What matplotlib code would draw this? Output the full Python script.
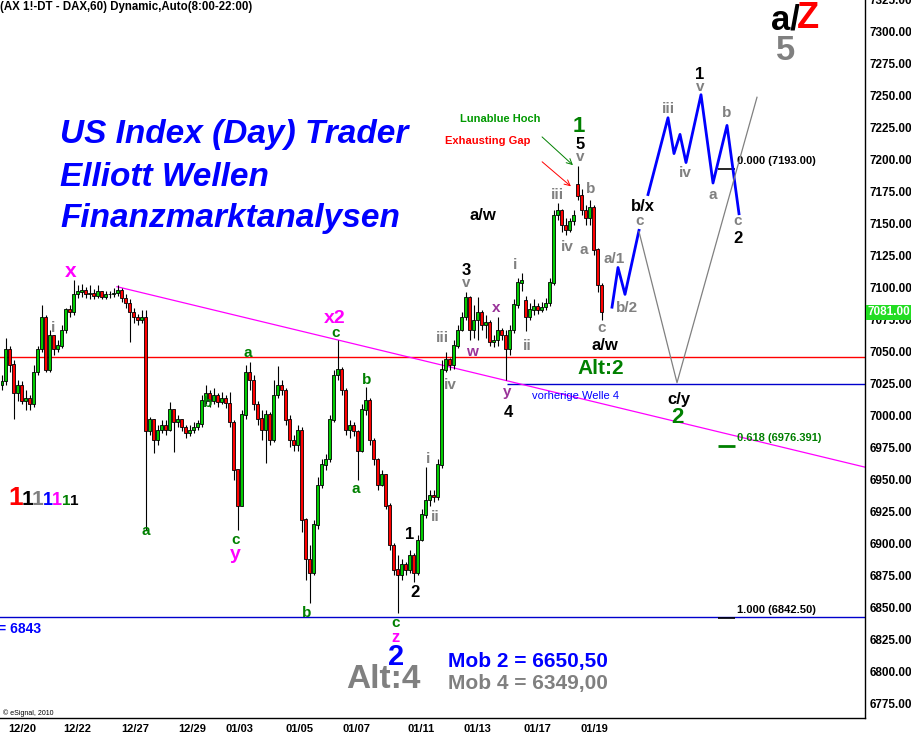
import numpy as np
import matplotlib
matplotlib.use("Agg")
import matplotlib.pyplot as plt
from matplotlib.transforms import blended_transform_factory

plt.rcParams['font.family'] = ['Liberation Sans', 'DejaVu Sans']

# hourly DAX candles (bar index = position), open = previous close unless gapped
closes = [7027, 7052, 7040, 7018, 7024, 7012, 7014, 7009, 7034, 7052,
          7077, 7036, 7063, 7052, 7055, 7067, 7083, 7081, 7095, 7097,
          7098, 7095, 7096, 7094, 7097, 7093, 7095, 7095, 7096, 7098,
          7092, 7088, 7081, 7077, 7075, 7077, 6988, 6997, 6981, 6989,
          6993, 6989, 7005, 6995, 6997, 6991, 6987, 6989, 6991, 6994,
          7012, 7018, 7012, 7016, 7011, 7014, 7010, 6995, 6958, 6930,
          7001, 7034, 7028, 7009, 6998, 6989, 7001, 6981, 7016, 7024,
          7020, 6997, 6981, 6977, 6989, 6919, 6888, 6877, 6915, 6946,
          6962, 6966, 6997, 7032, 7036, 7020, 6989, 6993, 6988, 6973,
          7005, 7012, 6981, 6966, 6946, 6954, 6930, 6899, 6880, 6876,
          6884, 6880, 6891, 6877, 6903, 6923, 6934, 6938, 6937, 6962,
          7036, 7044, 7040, 7055, 7067, 7077, 7093, 7067, 7075, 7081,
          7071, 7073, 7058, 7059, 7067, 7063, 7052, 7067, 7087, 7104,
          7106, 7077, 7083, 7086, 7083, 7085, 7088, 7104, 7157, 7161,
          7149, 7145, 7152, 7157, 7172, 7161, 7155, 7163, 7130, 7102,
          7081]
highs = [7032, 7061, 7055, 7044, 7028, 7027, 7020, 7016, 7040, 7055,
         7087, 7079, 7067, 7063, 7059, 7071, 7084, 7087, 7106, 7102,
         7103, 7101, 7102, 7099, 7102, 7098, 7098, 7098, 7100, 7102,
         7100, 7095, 7091, 7084, 7080, 7083, 7083, 6999, 6998, 6993,
         6997, 6997, 7011, 7005, 7001, 6998, 6993, 6993, 6995, 6997,
         7016, 7024, 7020, 7022, 7018, 7019, 7016, 7019, 6997, 6958,
         7005, 7040, 7042, 7032, 7012, 7005, 7005, 7003, 7028, 7039,
         7028, 7022, 7001, 6985, 6993, 6991, 6920, 6899, 6919, 6952,
         6966, 6970, 7001, 7036, 7059, 7038, 7022, 6997, 6995, 6989,
         7009, 7023, 7014, 6983, 6967, 6958, 6955, 6932, 6901, 6891,
         6888, 6886, 6895, 6893, 6907, 6927, 6960, 6942, 6942, 6966,
         7044, 7050, 7045, 7059, 7071, 7081, 7097, 7094, 7087, 7093,
         7083, 7079, 7075, 7063, 7077, 7069, 7067, 7071, 7091, 7108,
         7112, 7094, 7088, 7091, 7088, 7089, 7092, 7108, 7161, 7166,
         7162, 7155, 7155, 7161, 7195, 7177, 7165, 7169, 7165, 7131,
         7104]
lows = [7020, 7024, 7034, 6998, 7012, 7009, 7005, 7005, 7007, 7032,
        7050, 7034, 7034, 7048, 7050, 7053, 7065, 7077, 7079, 7092,
        7093, 7092, 7091, 7091, 7092, 7091, 7091, 7092, 7093, 7094,
        7089, 7084, 7058, 7073, 7071, 7073, 6911, 6985, 6971, 6977,
        6987, 6985, 6988, 6972, 6991, 6988, 6983, 6984, 6987, 6989,
        6991, 7009, 7007, 7009, 7007, 7009, 7006, 6991, 6950, 6911,
        6930, 6998, 7020, 7005, 6993, 6981, 6963, 6977, 6980, 7014,
        7016, 6993, 6976, 6973, 6973, 6909, 6872, 6854, 6876, 6912,
        6944, 6958, 6964, 6995, 7028, 7016, 6985, 6983, 6984, 6950,
        6972, 7001, 6977, 6962, 6942, 6945, 6927, 6895, 6876, 6846,
        6872, 6876, 6877, 6870, 6876, 6902, 6920, 6930, 6933, 6934,
        6959, 7034, 7036, 7037, 7053, 7066, 7075, 7059, 7061, 7059,
        7067, 7061, 7055, 7054, 7055, 7059, 7028, 7048, 7065, 7084,
        7098, 7066, 7075, 7079, 7080, 7081, 7083, 7086, 7102, 7153,
        7144, 7141, 7144, 7149, 7169, 7157, 7149, 7149, 7126, 7097,
        7075]
first_open = 7024
gap_opens = {131: 7090, 144: 7181}

# x-axis dates (bar positions)
date_pos = [5, 18.75, 33.25, 47.5, 59.25, 74.5, 88.75, 104.75, 118.75, 133.75, 148]
date_labels = ['12/20', '12/22', '12/27', '12/29', '01/03', '01/05', '01/07',
               '01/11', '01/13', '01/17', '01/19']

# projected wave paths
proj1_x = [152.5, 154, 155.75, 159.25]
proj1_y = [7085, 7116, 7095, 7145]
proj2_x = [161.5, 166.5, 168, 169.5, 171, 174.75, 177.75, 181.25, 184.25]
proj2_y = [7173, 7233, 7205, 7220, 7198, 7251, 7182, 7227, 7158]
alt_x = [159.25, 168.75, 188.75]
alt_y = [7144, 7026, 7249]

# levels
red_level = 7046
prev_wave4 = 7025
low_level = 6843
trend_x = [28.75, 215.75]
trend_y = [7101, 6960]
fib_levels = [7193.00, 6976.391, 6842.50]
fib_names = ['0.000', '0.618', '1.000']
fib_colors = ['black', '#008000', 'black']
last_price = 7081.00

closes = np.array(closes, float)
opens = np.r_[first_open, closes[:-1]]
for k, v in gap_opens.items():
    opens[k] = v
highs = np.maximum(np.array(highs, float), np.maximum(opens, closes))
lows = np.minimum(np.array(lows, float), np.minimum(opens, closes))
idx = np.arange(len(closes))

fig = plt.figure(figsize=(9.12, 7.36), dpi=100)
ax = fig.add_axes([0, 18 / 736, 865 / 912, 718 / 736])
ax.set_xlim(-0.5, 215.75)
ax.set_ylim(6764, 7325)

# horizontal and trend lines
ax.axhline(red_level, color='red', lw=1, zorder=1)
ax.hlines(prev_wave4, 126.25, 215.75, color='#0000CC', lw=1, zorder=1)
ax.axhline(low_level, color='#0000CC', lw=1, zorder=1)
ax.plot(trend_x, trend_y, color='#FF00FF', lw=0.9, zorder=1)

# candles
up = closes >= opens
ax.vlines(idx, lows, highs, color='black', lw=0.8, zorder=2)
ax.bar(idx, np.abs(closes - opens) + 0.3, bottom=np.minimum(opens, closes),
       width=0.75, color=np.where(up, '#00CC00', '#FF0000'),
       edgecolor='black', linewidth=0.6, zorder=3)

# projections
ax.plot(proj1_x, proj1_y, color='#0000FF', lw=2, zorder=4)
ax.plot(proj2_x, proj2_y, color='#0000FF', lw=2, zorder=4)
ax.plot(alt_x, alt_y, color='#808080', lw=0.9, zorder=4)

# fibonacci marks
for lvl, nm, c in zip(fib_levels, fib_names, fib_colors):
    ax.hlines(lvl, 179, 183.25, color=c, lw=1.2 if c == 'black' else 2)
    ax.text(183.75, lvl + 6, f'{nm} ({lvl:.{3 if nm == "0.618" else 2}f})',
            color=c, fontsize=8, fontweight='bold', va='center', ha='left')

# axes styling
for s in ['top', 'left']:
    ax.spines[s].set_visible(False)
ax.spines['right'].set_linewidth(1)
ax.spines['bottom'].set_linewidth(1)
ax.yaxis.tick_right()
yt = np.arange(6775, 7326, 25)
ax.set_yticks(yt)
ax.set_yticklabels([f'{v:.2f}' for v in yt], fontsize=8.5, fontweight='bold')
ax.set_xticks(date_pos)
ax.set_xticklabels(date_labels, fontsize=8, fontweight='bold')
ax.tick_params(axis='both', length=0)
ax.tick_params(axis='y', pad=3)
ax.tick_params(axis='x', pad=4)

tr = blended_transform_factory(ax.transAxes, ax.transData)
ax.text(1.003, last_price, f'{last_price:.2f}', transform=tr, color='white',
        fontsize=8.5, fontweight='bold', va='center', ha='left',
        bbox=dict(boxstyle='square,pad=0.12', fc='#22DD22', ec='none'), zorder=6)


def lbl(x, y, s, color='#808080', size=11, weight='bold'):
    ax.text(x, y, s, color=color, fontsize=size, fontweight=weight,
            ha='center', va='center', zorder=5)


GR, GN, MG, PU, BK = '#808080', '#008000', '#FF00FF', '#993399', 'black'
lbl(17.25, 7112.5, 'x', MG, 15)
lbl(12.75, 7069, 'i', GR)
lbl(36, 6910, 'a', GN)
lbl(51.5, 7010, 'b', GN)
lbl(58.5, 6903, 'c', GN)
lbl(58.25, 6892, 'y', MG, 14)
lbl(61.5, 7049, 'a', GN)
lbl(83.25, 7076, 'x2', MG, 14)
lbl(83.5, 7065, 'c', GN)
lbl(91.25, 7028, 'b', GN)
lbl(88.5, 6943, 'a', GN)
lbl(76.25, 6846, 'b', GN)
lbl(98.5, 6838, 'c', GN)
lbl(98.5, 6827, 'z', MG, 12)
lbl(98.5, 6812, '2', '#0000FF', 21)
lbl(102, 6907, '1', BK, 12)
lbl(103.25, 6862, '2', BK, 12)
lbl(106.5, 6966, 'i', GR)
lbl(108.25, 6921, 'ii', GR)
lbl(110, 7061, 'iii', GR)
lbl(112, 7024, 'iv', GR)
lbl(116, 7114, '3', BK, 12)
lbl(116, 7104, 'v', GR)
lbl(117.5, 7050, 'w', PU)
lbl(123.5, 7084, 'x', PU)
lbl(126.25, 7019, 'y', PU)
lbl(126.5, 7003, '4', BK, 12)
lbl(128.25, 7118, 'i', GR)
lbl(131.25, 7055, 'ii', GR)
lbl(138.75, 7173, 'iii', GR)
lbl(141.25, 7132, 'iv', GR)
lbl(144.25, 7226, '1', GN, 16)
lbl(144.5, 7212, '5', BK, 12)
lbl(144.5, 7202, 'v', GR)
lbl(147.25, 7177, 'b', GR)
lbl(145.5, 7130, 'a', GR)
lbl(150, 7069, 'c', GR)
lbl(150.75, 7055, 'a/w', BK, 12)
lbl(120.25, 7157, 'a/w', BK, 12)
lbl(153, 7123, 'a/1', GR)
lbl(156.25, 7084, 'b/2', GR)
lbl(160.25, 7164, 'b/x', BK, 12)
lbl(159.5, 7152, 'c', GR)
lbl(149.75, 7037, 'Alt:2', GN, 15)
lbl(169.25, 7013, 'c/y', BK, 12)
lbl(168.75, 6999, '2', GN, 16)
lbl(166.5, 7240, 'iii', GR)
lbl(170.75, 7190, 'iv', GR)
lbl(174.5, 7267, '1', BK, 12)
lbl(174.5, 7257, 'v', GR)
lbl(181.25, 7237, 'b', GR)
lbl(177.75, 7173, 'a', GR)
lbl(184, 7152, 'c', GR)
lbl(184, 7139, '2', BK, 12)
lbl(124.5, 7232, 'Lunablue Hoch', '#009900', 8)
lbl(121.5, 7215, 'Exhausting Gap', 'red', 8)
ax.text(132.5, 7015.6, 'vorherige Welle 4', color='#0000FF', fontsize=8,
        ha='left', va='center')
ax.annotate('', xy=(143.25, 7194.5), xytext=(134.5, 7219.5),
            arrowprops=dict(arrowstyle='->', color='green', lw=0.7))
ax.annotate('', xy=(142.75, 7178), xytext=(134.5, 7200),
            arrowprops=dict(arrowstyle='->', color='red', lw=0.7))


# figure texts (pixel positions)
def ftxt(px, py, s, **kw):
    fig.text(px / 912, 1 - py / 736, s, **kw)


ftxt(0, 7, '(AX 1!-DT - DAX,60) Dynamic,Auto(8:00-22:00)', fontsize=8.3,
     fontweight='bold', va='center', ha='left')
blue_kw = dict(fontsize=24, fontweight='bold', fontstyle='italic', color='#0000FF',
               va='center', ha='left')
ftxt(60, 135, 'US Index (Day) Trader', **blue_kw)
ftxt(60, 177, 'Elliott Wellen', **blue_kw)
ftxt(60, 218, 'Finanzmarktanalysen', **blue_kw)
ftxt(800, 20, 'a/', fontsize=25, fontweight='bold', color='black', ha='right', va='center')
ftxt(797, 18, 'Z', fontsize=26, fontweight='bold', color='red', ha='left', va='center')
ftxt(786, 51, '5', fontsize=25, fontweight='bold', color='#808080', ha='center', va='center')
ftxt(383, 680, 'Alt:4', fontsize=24, fontweight='bold', color='#808080', ha='center', va='center')
ftxt(448, 661, 'Mob 2 = 6650,50', fontsize=15, fontweight='bold', color='#0000FF', va='center')
ftxt(448, 683, 'Mob 4 = 6349,00', fontsize=15, fontweight='bold', color='#808080', va='center')
ftxt(-2, 629, '= 6843', fontsize=10, fontweight='bold', color='#0000FF', va='center')
ftxt(3, 713, '\u00a9 eSignal, 2010', fontsize=5, va='center')

ones = [('1', 'red', 19, 8), ('1', 'black', 15, 22), ('1', '#808080', 15, 32),
        ('1', '#0000FF', 13, 43), ('1', '#FF00FF', 13, 52), ('1', '#008000', 11, 62),
        ('1', 'black', 11, 70)]
for s, c, fs, px in ones:
    ftxt(px, 505, s, fontsize=fs, fontweight='bold', color=c, va='baseline')

fig.savefig('out.png', dpi=100)
